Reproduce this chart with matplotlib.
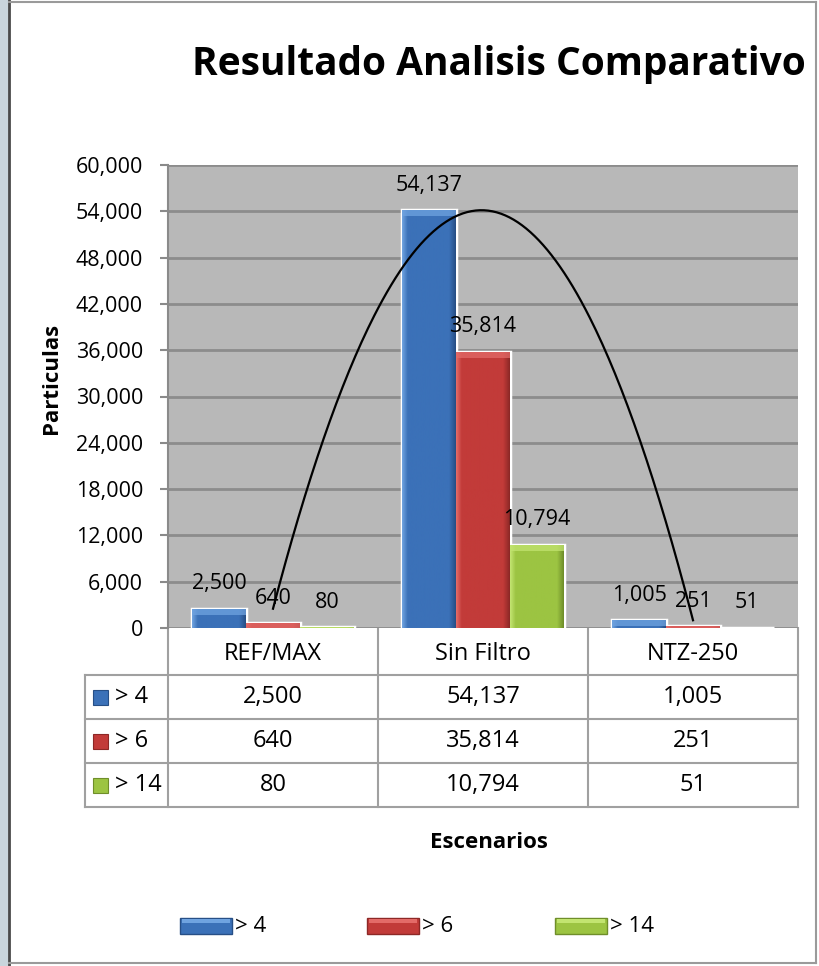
import matplotlib.pyplot as plt
import matplotlib.colors as mcolors
import numpy as np

# data
categories = ["REF/MAX", "Sin Filtro", "NTZ-250"]
series_names = ["> 4", "> 6", "> 14"]
gt4 = [2500, 54137, 1005]
gt6 = [640, 35814, 251]
gt14 = [80, 10794, 51]
yticks = [0, 6000, 12000, 18000, 24000, 30000, 36000, 42000, 48000, 54000, 60000]

series = [gt4, gt6, gt14]
base_colors = ["#3b71b8", "#c23b39", "#9cc442"]
light_colors = ["#6fa3e0", "#e36b68", "#c2e470"]
dark_colors = ["#274f86", "#8d2826", "#6f8e2a"]

FONT = "Open Sans"
plt.rcParams["font.family"] = [FONT, "DejaVu Sans"]

W, H = 820, 966
fig = plt.figure(figsize=(W / 100, H / 100), dpi=100)

# overlay axes in pixel coordinates for frame, table, legend
over = fig.add_axes([0, 0, 1, 1], zorder=0)
over.set_xlim(0, W)
over.set_ylim(H, 0)
over.axis("off")

# left textured strip and frame
over.add_patch(plt.Rectangle((0, 0), 9, H, color="#c9d5dc", lw=0))
over.plot([9, 9], [0, H], color="#4a4a4a", lw=2)
over.plot([9, 816], [2, 2], color="#9a9a9a", lw=1.5)
over.plot([816, 816], [2, 963], color="#9a9a9a", lw=1.5)
over.plot([9, 816], [963, 963], color="#9a9a9a", lw=1.5)

# plot area
px0, px1, py0, py1 = 168, 798, 165, 628
ax = fig.add_axes([px0 / W, 1 - py1 / H, (px1 - px0) / W, (py1 - py0) / H], zorder=1)
ax.set_facecolor("#b8b8b8")
ax.set_xlim(-0.5, 2.5)
ax.set_ylim(0, 60000)
ax.set_yticks(yticks)
ax.set_yticklabels([f"{v:,}" for v in yticks], fontsize=15.5)
ax.tick_params(axis="y", length=6, width=1.5, color="#8a8a8a", pad=12)
ax.set_xticks([])
ax.yaxis.grid(True, color="#8c8c8c", lw=2)
ax.set_axisbelow(True)
for s in ["top", "right", "bottom"]:
    ax.spines[s].set_visible(False)
ax.spines["left"].set_color("#8a8a8a")
ax.spines["left"].set_linewidth(1.5)

x = np.arange(len(categories))
bw = 54 / 210
bevel = 6 / (py1 - py0) * 60000
for i, vals in enumerate(series):
    xs = x + (i - 1) * bw
    bars = ax.bar(xs, vals, width=bw, color=base_colors[i], edgecolor="white", lw=2.5, zorder=2)
    cmap = mcolors.LinearSegmentedColormap.from_list(
        "g", [(0, light_colors[i]), (0.1, base_colors[i]), (0.88, base_colors[i]), (1, dark_colors[i])])
    grad = np.linspace(0, 1, 64).reshape(1, -1)
    for b in bars:
        bx, by, bh = b.get_x(), b.get_y(), b.get_height()
        im = ax.imshow(grad, cmap=cmap, aspect="auto", zorder=2.1,
                       extent=[bx, bx + b.get_width(), by, by + bh])
        im.set_clip_path(b)
        top = plt.Rectangle((bx, by + bh - min(bh, bevel)), b.get_width(), min(bh, bevel),
                            color=light_colors[i], alpha=0.75, lw=0, zorder=2.2)
        ax.add_patch(top)
        top.set_clip_path(b)
    for xi, v in zip(xs, vals):
        ax.annotate(f"{v:,}", (xi, v), textcoords="offset points", xytext=(0, 18),
                    ha="center", va="center", fontsize=15.5, zorder=4)

# polynomial trendline (order 2) of the > 4 series
coef = np.polyfit(x, gt4, 2)
xt = np.linspace(0, 2, 200)
ax.plot(xt, np.polyval(coef, xt), color="black", lw=1.6, zorder=3)
ax.set_xlim(-0.5, 2.5)
ax.set_ylim(0, 60000)

# title and axis labels
fig.text(499 / W, 1 - 65 / H, "Resultado Analisis Comparativo", ha="center", va="center",
         fontsize=28, fontweight="bold")
fig.text(52 / W, 1 - 378 / H, "Particulas", ha="center", va="center", rotation=90,
         fontsize=16, fontweight="bold")
fig.text(489 / W, 1 - 843 / H, "Escenarios", ha="center", va="center",
         fontsize=16, fontweight="bold")

# data table under the chart
tab_left, col_x = 85, [168, 378, 588, 798]
row_y = [628, 675, 719, 763, 807]
lc, lw_t = "#a0a0a0", 1.5
for cx in col_x:
    over.plot([cx, cx], [row_y[0], row_y[-1]], color=lc, lw=lw_t)
over.plot([tab_left, tab_left], [row_y[1], row_y[-1]], color=lc, lw=lw_t)
for ry in row_y[1:]:
    over.plot([tab_left, col_x[-1]], [ry, ry], color=lc, lw=lw_t)
for j, cat in enumerate(categories):
    over.text((col_x[j] + col_x[j + 1]) / 2, (row_y[0] + row_y[1]) / 2 + 2, cat,
              ha="center", va="center", fontsize=17)
for i, vals in enumerate(series):
    cy = (row_y[i + 1] + row_y[i + 2]) / 2
    over.add_patch(plt.Rectangle((93, cy - 7), 15, 15, facecolor=base_colors[i],
                                 edgecolor=dark_colors[i], lw=0.8))
    over.text(115, cy, series_names[i], ha="left", va="center", fontsize=17)
    for j, v in enumerate(vals):
        over.text((col_x[j] + col_x[j + 1]) / 2, cy, f"{v:,}", ha="center", va="center", fontsize=17)

# legend at the bottom
leg_x = [180, 367, 555]
for i, name in enumerate(series_names):
    over.add_patch(plt.Rectangle((leg_x[i], 918), 52, 16, facecolor=base_colors[i],
                                 edgecolor=dark_colors[i], lw=1))
    over.add_patch(plt.Rectangle((leg_x[i] + 2, 919), 48, 4, color=light_colors[i], lw=0))
    over.text(leg_x[i] + 55, 926, name, ha="left", va="center", fontsize=16)

fig.savefig("out.png", dpi=100)
